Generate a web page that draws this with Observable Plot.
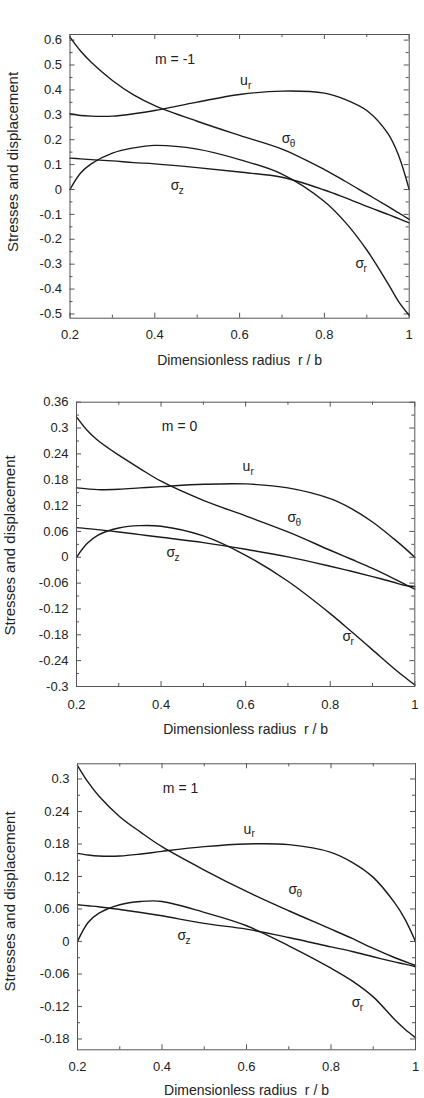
<!DOCTYPE html>
<html><head><meta charset="utf-8">
<script src="https://cdn.jsdelivr.net/npm/d3@7"></script>
<script src="https://cdn.jsdelivr.net/npm/@observablehq/plot@0.6"></script>
<style>
body{margin:0;background:#fff}
#wrap{position:relative;width:424px;height:1098px;overflow:hidden;background:#fff}
.panel{position:absolute;left:0}
</style>
</head><body><div id="wrap"></div>
<script>
// radius samples r/b
const r = [0.2, 0.225, 0.25, 0.3, 0.35, 0.4, 0.5, 0.6, 0.7, 0.8, 0.85, 0.9, 0.95, 0.975, 1.0];

// m = -1
const m1_sigmaTheta = [0.612, 0.556, 0.511, 0.438, 0.38, 0.337, 0.274, 0.217, 0.162, 0.08, 0.032, -0.018, -0.068, -0.094, -0.12];
const m1_ur         = [0.304, 0.297, 0.2945, 0.2945, 0.304, 0.317, 0.351, 0.3815, 0.395, 0.387, 0.361, 0.317, 0.224, 0.1365, 0.0];
const m1_sigmaR     = [0.0, 0.066, 0.103, 0.146, 0.167, 0.177, 0.162, 0.12, 0.062, -0.048, -0.133, -0.243, -0.378, -0.45, -0.505];
const m1_sigmaZ     = [0.126, 0.123, 0.12, 0.115, 0.108, 0.103, 0.088, 0.07, 0.049, -0.002, -0.034, -0.068, -0.1, -0.117, -0.134];

// m = 0
const m0_sigmaTheta = [0.326, 0.295, 0.2717, 0.237, 0.206, 0.1765, 0.132, 0.096, 0.0588, 0.0163, -0.0046, -0.026, -0.0495, -0.062, -0.074];
const m0_ur         = [0.161, 0.1587, 0.157, 0.158, 0.161, 0.164, 0.1695, 0.1703, 0.161, 0.136, 0.113, 0.082, 0.0433, 0.0224, 0.0];
const m0_sigmaR     = [0.0, 0.0317, 0.051, 0.068, 0.0735, 0.072, 0.0495, 0.0046, -0.0557, -0.1308, -0.1725, -0.215, -0.2575, -0.2775, -0.2965];
const m0_sigmaZ     = [0.0689, 0.0666, 0.0642, 0.0588, 0.0526, 0.0464, 0.034, 0.0186, 0.0008, -0.0209, -0.0325, -0.0449, -0.058, -0.065, -0.068];

// m = 1
const p1_sigmaTheta = [0.3247, 0.294, 0.269, 0.2304, 0.2015, 0.175, 0.1319, 0.0924, 0.0567, 0.0228, 0.0055, -0.0129, -0.0296, -0.037, -0.0444];
const p1_ur         = [0.1627, 0.1596, 0.1577, 0.1577, 0.1614, 0.1664, 0.175, 0.18, 0.1787, 0.1645, 0.146, 0.1183, 0.0721, 0.0413, 0.0];
const p1_sigmaR     = [0.0, 0.0351, 0.0518, 0.0678, 0.0739, 0.0739, 0.0536, 0.029, -0.008, -0.0493, -0.0727, -0.1023, -0.1436, -0.162, -0.1775];
const p1_sigmaZ     = [0.0678, 0.0659, 0.0641, 0.0591, 0.0536, 0.0474, 0.0333, 0.0228, 0.0074, -0.0099, -0.0185, -0.0283, -0.0376, -0.0419, -0.0468];

// tick labels
const xMajor = [0.2, 0.4, 0.6, 0.8, 1];
const xMinor = [0.3, 0.5, 0.7, 0.9];
const yMajor1 = [-0.5, -0.4, -0.3, -0.2, -0.1, 0, 0.1, 0.2, 0.3, 0.4, 0.5, 0.6];
const yMinor1 = [-0.45, -0.35, -0.25, -0.15, -0.05, 0.05, 0.15, 0.25, 0.35, 0.45, 0.55];
const yMajor2 = [-0.3, -0.24, -0.18, -0.12, -0.06, 0, 0.06, 0.12, 0.18, 0.24, 0.3, 0.36];
const yMinor2 = [-0.27, -0.21, -0.15, -0.09, -0.03, 0.03, 0.09, 0.15, 0.21, 0.27, 0.33];
const yMajor3 = [-0.18, -0.12, -0.06, 0, 0.06, 0.12, 0.18, 0.24, 0.3];
const yMinor3 = [-0.15, -0.09, -0.03, 0.03, 0.09, 0.15, 0.21, 0.27];

// labels
const xTitle = "Dimensionless radius\u00a0 r / b";
const yTitle = "Stresses and displacement";
const panelTitles = ["m = -1", "m = 0", "m = 1"];
const curveMain = ["u", "σ", "σ", "σ"];
const curveSub  = ["r", "θ", "z", "r"];
// label positions (x, y) per panel: u_r, σθ, σz, σr
const labelX1 = [0.601, 0.6995, 0.4376, 0.8733], labelY1 = [0.438, 0.2035, 0.016, -0.2985];
const labelX2 = [0.5925, 0.699, 0.4128, 0.829], labelY2 = [0.2098, 0.0913, 0.0108, -0.185];
const labelX3 = [0.593, 0.6994, 0.4367, 0.849], labelY3 = [0.2076, 0.0967, 0.0105, -0.1128];
const titleX = [0.4006, 0.4018, 0.402], titleY = [0.521, 0.3026, 0.2816];

const panels = [
  {top: 0, height: 372, mt: 34, mb: 54.3, ml: 69.5, mr: 15.3, domain: [-0.517, 0.6225],
   yMajor: yMajor1, yMinor: yMinor1, series: [m1_ur, m1_sigmaTheta, m1_sigmaZ, m1_sigmaR],
   lx: labelX1, ly: labelY1, tpad: 12, xdy: 42.3, ydx: -56.5, ydy: -14.4},
  {top: 370, height: 372, mt: 31.7, mb: 56, ml: 76, mr: 9.7, domain: [-0.3, 0.36],
   yMajor: yMajor2, yMinor: yMinor2, series: [m0_ur, m0_sigmaTheta, m0_sigmaZ, m0_sigmaR],
   lx: labelX2, ly: labelY2, tpad: 13, xdy: 43.2, ydx: -66, ydy: 1},
  {top: 735, height: 363, mt: 28.3, mb: 48.7, ml: 77, mr: 9, domain: [-0.2, 0.328],
   yMajor: yMajor3, yMinor: yMinor3, series: [p1_ur, p1_sigmaTheta, p1_sigmaZ, p1_sigmaR],
   lx: labelX3, ly: labelY3, tpad: 12, xdy: 41.2, ydx: -67, ydy: -5.3}
];

const wrap = document.getElementById("wrap");
const W = 424;
const frameColor = "#555";
const inkColor = "#1a1a1a";

panels.forEach((p, i) => {
  const plotW = W - p.ml - p.mr;
  const plotH = p.height - p.mt - p.mb;
  const lines = [];
  p.series.forEach((vals, k) => vals.forEach((v, j) => lines.push({r: r[j], v, k})));
  const labels = curveMain.map((m, k) => ({x: p.lx[k], y: p.ly[k], main: m, sub: curveSub[k]}));
  const fmt = d => String(d);
  const chart = Plot.plot({
    width: W, height: p.height,
    marginTop: p.mt, marginBottom: p.mb, marginLeft: p.ml, marginRight: p.mr,
    style: {fontFamily: "'Liberation Sans', Arial, sans-serif", fontSize: "13px", color: "#222", background: "transparent", overflow: "visible"},
    x: {domain: [0.2, 1]},
    y: {domain: p.domain},
    marks: [
      // inward ticks, left/right
      Plot.ruleY(p.yMajor, {y: d => d, insetRight: plotW - 5, stroke: frameColor}),
      Plot.ruleY(p.yMinor, {y: d => d, insetRight: plotW - 3, stroke: frameColor}),
      Plot.ruleY(p.yMajor, {y: d => d, insetLeft: plotW - 5, stroke: frameColor}),
      Plot.ruleY(p.yMinor, {y: d => d, insetLeft: plotW - 3, stroke: frameColor}),
      // inward ticks, top/bottom
      Plot.ruleX(xMajor, {x: d => d, insetTop: plotH - 5, stroke: frameColor}),
      Plot.ruleX(xMinor, {x: d => d, insetTop: plotH - 3, stroke: frameColor}),
      Plot.ruleX(xMajor, {x: d => d, insetBottom: plotH - 5, stroke: frameColor}),
      Plot.ruleX(xMinor, {x: d => d, insetBottom: plotH - 3, stroke: frameColor}),
      Plot.axisY(p.yMajor, {tickSize: 0, tickPadding: 8, tickFormat: fmt, label: null, fontSize: 13}),
      Plot.axisX(xMajor, {tickSize: 0, tickPadding: p.tpad, tickFormat: fmt, label: null, fontSize: 13}),
      Plot.line(lines, {x: "r", y: "v", z: "k", curve: "catmull-rom", stroke: inkColor, strokeWidth: 1.4}),
      Plot.frame({stroke: frameColor, strokeWidth: 1}),
      Plot.text([panelTitles[i]], {x: titleX[i], y: titleY[i], text: d => d, textAnchor: "start", fontSize: 14, fill: "#222"}),
      Plot.text(labels, {x: "x", y: "y", text: "main", textAnchor: "start", fontSize: 14, fill: "#222"}),
      Plot.text(labels, {x: "x", y: "y", text: "sub", textAnchor: "start", dx: 8, dy: 5, fontSize: 10, fill: "#222"}),
      Plot.text([xTitle], {frameAnchor: "bottom", text: d => d, textAnchor: "middle", lineAnchor: "middle", dy: p.xdy, fontSize: 14, fill: "#222"}),
      Plot.text([yTitle], {frameAnchor: "left", text: d => d, textAnchor: "middle", lineAnchor: "middle", rotate: -90, dx: p.ydx, dy: p.ydy, fontSize: 15, fill: "#222"})
    ]
  });
  const div = document.createElement("div");
  div.className = "panel";
  div.style.top = p.top + "px";
  div.appendChild(chart);
  wrap.appendChild(div);
});
</script>
</body></html>
